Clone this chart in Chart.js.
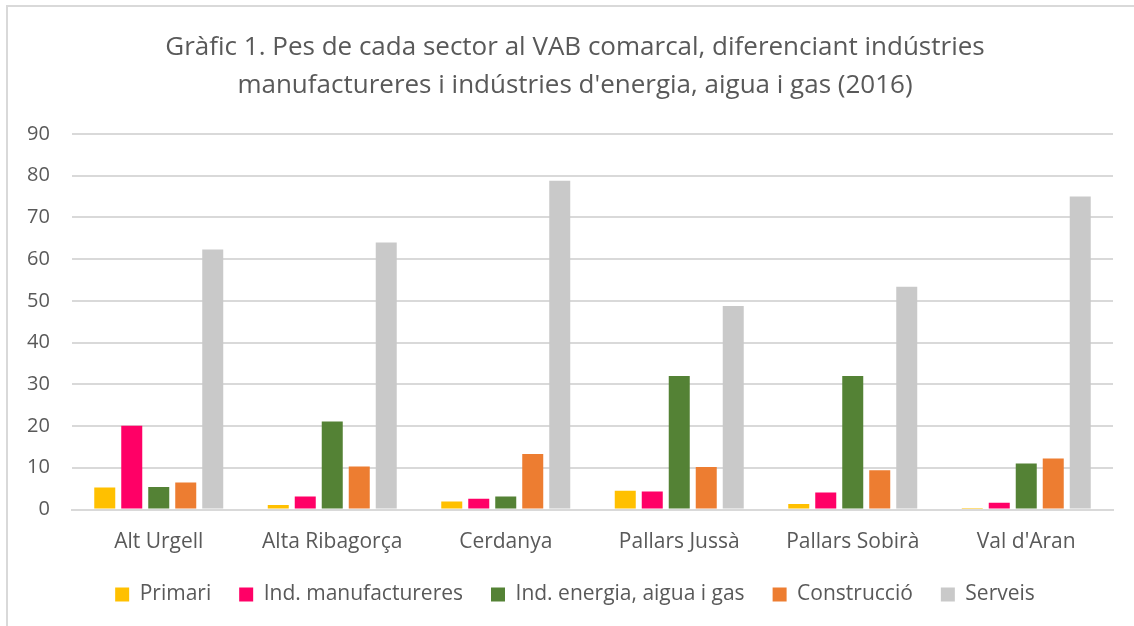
<!DOCTYPE html>
<html>
<head>
<meta charset="utf-8">
<script src="https://cdn.jsdelivr.net/npm/chart.js@4"></script>
<style>
html,body{margin:0;padding:0;background:#fff;overflow:hidden;}
#wrap{position:absolute;left:6px;top:5px;width:2000px;height:2000px;border:2px solid #d9d9d9;box-sizing:border-box;}
#c{position:absolute;left:0;top:0;}
</style>
</head>
<body>
<div id="wrap"></div>
<canvas id="c" width="1134" height="626"></canvas>
<script>
const categories = ["Alt Urgell", "Alta Ribagorça", "Cerdanya", "Pallars Jussà", "Pallars Sobirà", "Val d'Aran"];
const primari = [5.3, 1.1, 1.9, 4.5, 1.3, 0.1];
const manufactureres = [20.1, 3.1, 2.6, 4.3, 4.1, 1.6];
const energia = [5.4, 21.1, 3.1, 32.0, 32.0, 11.0];
const construccio = [6.5, 10.3, 13.3, 10.2, 9.4, 12.2];
const serveis = [62.3, 64.0, 78.8, 48.8, 53.4, 75.0];
const yTicks = [0, 10, 20, 30, 40, 50, 60, 70, 80, 90];

const font = "'Open Sans', 'Noto Sans', sans-serif";
const mk = (label, data, color) => ({label, data, backgroundColor: color, borderWidth: 0, categoryPercentage: 0.778, barPercentage: 0.778});

new Chart(document.getElementById('c'), {
  type: 'bar',
  data: {
    labels: categories,
    datasets: [
      mk('Primari', primari, '#ffc000'),
      mk('Ind. manufactureres', manufactureres, '#ff0066'),
      mk('Ind. energia, aigua i gas', energia, '#548235'),
      mk('Construcció', construccio, '#ed7d31'),
      mk('Serveis', serveis, '#c9c9c9')
    ]
  },
  options: {
    responsive: false,
    animation: false,
    devicePixelRatio: 1,
    layout: {padding: {left: 37, right: 21, top: 29, bottom: 11}},
    plugins: {
      title: {
        display: true,
        text: ["Gràfic 1. Pes de cada sector al VAB comarcal, diferenciant indústries", "manufactureres i indústries d'energia, aigua i gas (2016)"],
        color: '#595959',
        font: {family: font, size: 26, weight: 'normal', lineHeight: 1.4615},
        padding: {top: 0, bottom: 29}
      },
      legend: {
        position: 'bottom',
        labels: {
          color: '#595959',
          font: {family: font, size: 21},
          boxWidth: 14, boxHeight: 14,
          padding: 28
        }
      },
      tooltip: {enabled: false}
    },
    scales: {
      x: {
        grid: {display: false},
        border: {color: '#d9d9d9', width: 2},
        ticks: {color: '#595959', font: {family: font, size: 21}, padding: 12},
        afterFit: (ax) => { ax.height = 46.5; }
      },
      y: {
        min: 0, max: 90,
        afterBuildTicks: (ax) => { ax.ticks = yTicks.map(v => ({value: v})); },
        afterFit: (ax) => { ax.width = 35; },
        grid: {color: '#d9d9d9', lineWidth: 2, drawTicks: false},
        border: {display: false},
        ticks: {color: '#595959', font: {family: font, size: 20}, mirror: true, crossAlign: 'far', padding: -45}
      }
    }
  }
});
</script>
</body>
</html>
